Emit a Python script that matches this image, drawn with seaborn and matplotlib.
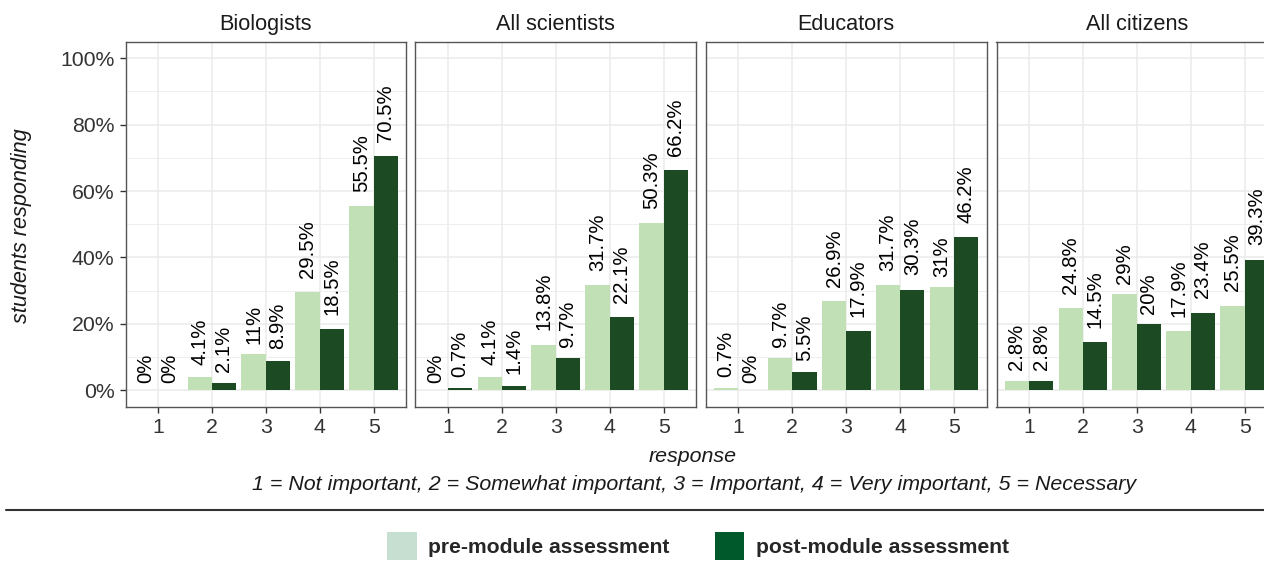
import matplotlib
matplotlib.use("Agg")
import matplotlib.pyplot as plt
from matplotlib.patches import Patch
from matplotlib.lines import Line2D
import seaborn as sns
import pandas as pd
import numpy as np

sns.set_style("white")
plt.rcParams['font.family'] = ['Liberation Sans', 'DejaVu Sans']

groups = ["Biologists", "All scientists", "Educators", "All citizens"]
responses = ["1", "2", "3", "4", "5"]
phases = ["pre-module assessment", "post-module assessment"]

pre_biologists = [0, 4.1, 11, 29.5, 55.5]
post_biologists = [0, 2.1, 8.9, 18.5, 70.5]
pre_scientists = [0, 4.1, 13.8, 31.7, 50.3]
post_scientists = [0.7, 1.4, 9.7, 22.1, 66.2]
pre_educators = [0.7, 9.7, 26.9, 31.7, 31]
post_educators = [0, 5.5, 17.9, 30.3, 46.2]
pre_citizens = [2.8, 24.8, 29, 17.9, 25.5]
post_citizens = [2.8, 14.5, 20, 23.4, 39.3]

yticks = [0, 20, 40, 60, 80, 100]
ytick_labels = ["0%", "20%", "40%", "60%", "80%", "100%"]

pre_vals = [pre_biologists, pre_scientists, pre_educators, pre_citizens]
post_vals = [post_biologists, post_scientists, post_educators, post_citizens]

rows = []
for g, pv, qv in zip(groups, pre_vals, post_vals):
    for r, a, b in zip(responses, pv, qv):
        rows.append((g, r, phases[0], a))
        rows.append((g, r, phases[1], b))
df = pd.DataFrame(rows, columns=["group", "response", "phase", "pct"])

bar_colors = {phases[0]: "#c1e0b5", phases[1]: "#1c4a22"}
key_colors = ["#c6dfd0", "#00592b"]

W, H = 1264, 561
fig = plt.figure(figsize=(W / 100, H / 100), dpi=100)

lefts = [125.5, 415.5, 706, 996.5]
pw = 280.5
top, bottom = 41.5, 407

char_w = {'.': 0.278, '%': 0.889}
lab_fs = 14.6
tick_fs = 15.3

for i, g in enumerate(groups):
    ax = fig.add_axes([lefts[i] / W, 1 - bottom / H, pw / W, (bottom - top) / H])
    sub = df[df.group == g]
    sns.barplot(data=sub, x="response", y="pct", hue="phase", hue_order=phases,
                order=responses, palette=bar_colors, width=0.9, ax=ax,
                legend=False, errorbar=None, saturation=1, zorder=3,
                linewidth=0, edgecolor='none')
    ax.set_xlim(-0.6, 4.6)
    ax.set_ylim(-5, 105)
    ax.set_yticks(yticks)
    ax.set_yticks([10, 30, 50, 70, 90], minor=True)
    ax.grid(True, which='major', color='#ebebeb', linewidth=1.1, zorder=0)
    ax.grid(True, which='minor', axis='y', color='#ebebeb', linewidth=0.6, zorder=0)
    ax.set_axisbelow(True)
    for s in ax.spines.values():
        s.set_color('#555555')
        s.set_linewidth(1.0)
    ax.set_xlabel("")
    ax.set_ylabel("")
    ax.tick_params(axis='x', length=4, width=1, color='#333333', labelsize=tick_fs,
                   labelcolor='#333333', pad=4, bottom=True)
    if i == 0:
        ax.set_yticklabels(ytick_labels)
        ax.tick_params(axis='y', length=4, width=1, color='#333333', labelsize=tick_fs,
                       labelcolor='#333333', pad=4, left=True)
    else:
        ax.tick_params(axis='y', left=False, labelleft=False)
    ax.set_title(g, fontsize=15.6, color='#1a1a1a', pad=8)

    for j, (a, b) in enumerate(zip(pre_vals[i], post_vals[i])):
        for k, v in enumerate((a, b)):
            x = j + (-0.225 if k == 0 else 0.225)
            lab = f"{v:g}%"
            wem = sum(char_w.get(c, 0.556) for c in lab)
            off = 0.25 * wem * lab_fs
            ax.annotate(lab, (x, v), xytext=(0, off), textcoords='offset points',
                        rotation=90, ha='center', va='bottom', fontsize=lab_fs,
                        color='black', annotation_clip=False)

fig.text(22 / W, 1 - 226 / H, "students responding", rotation=90, ha='center',
         va='center', fontsize=15.6, style='italic', color='#1a1a1a')
fig.text(693 / W, 1 - 457 / H, "response", ha='center', va='center',
         fontsize=15.4, style='italic', color='#1a1a1a')
fig.text(694 / W, 1 - 484 / H,
         "1 = Not important, 2 = Somewhat important, 3 = Important, 4 = Very important, 5 = Necessary",
         ha='center', va='center', fontsize=15.4, style='italic', color='#1a1a1a')

fig.add_artist(Line2D([6 / W, 1], [1 - 510 / H, 1 - 510 / H], color='#333333',
                      linewidth=1.5, transform=fig.transFigure))

handles = [Patch(facecolor=key_colors[0], edgecolor='none'),
           Patch(facecolor=key_colors[1], edgecolor='none')]
leg = fig.legend(handles, phases, loc='center', bbox_to_anchor=(698 / W, 1 - 546 / H),
                 ncol=2, frameon=False, prop={'weight': 'bold', 'size': 15.2},
                 handlelength=1.38, handleheight=1.62, handletextpad=0.55,
                 columnspacing=2.15, borderpad=0)

fig.savefig("out.png", dpi=100)
